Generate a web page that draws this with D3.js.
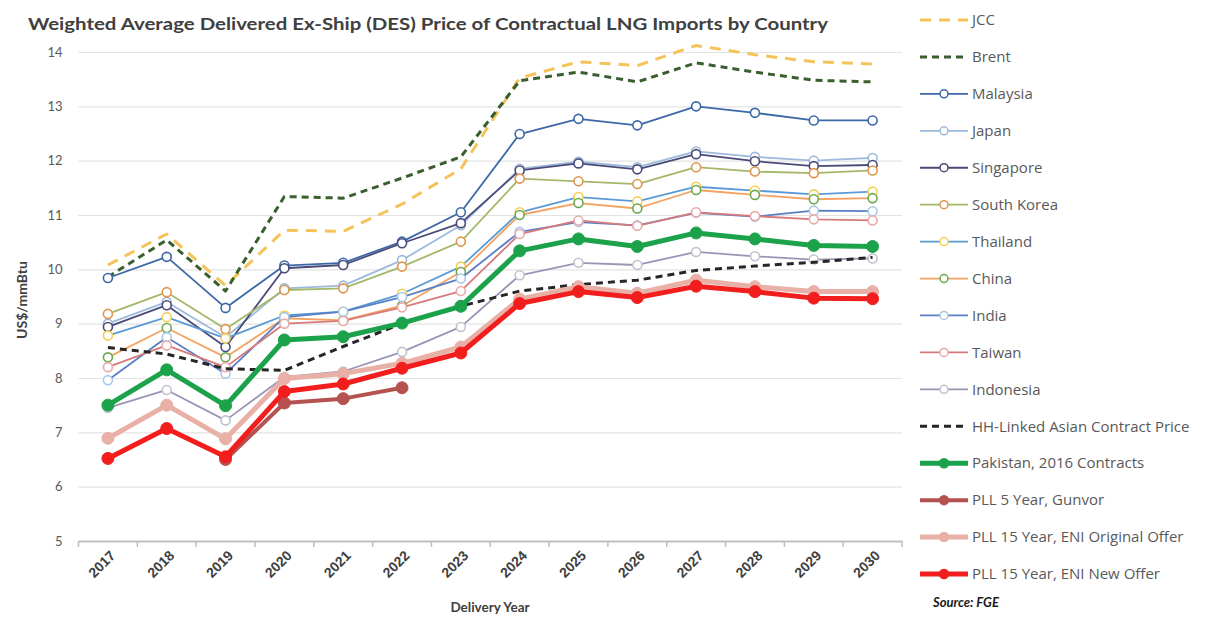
<!DOCTYPE html>
<html>
<head>
<meta charset="utf-8">
<script src="https://cdn.jsdelivr.net/npm/d3@7"></script>
<style>
  html, body { margin: 0; padding: 0; background: #fff; }
  svg { display: block; font-family: Lato, "Open Sans", sans-serif; }
</style>
</head>
<body>
<svg id="chart" width="1210" height="618"></svg>
<script>
// ---------------- DATA ----------------
const years = ["2017","2018","2019","2020","2021","2022","2023","2024","2025","2026","2027","2028","2029","2030"];
const yTicks = [5, 6, 7, 8, 9, 10, 11, 12, 13, 14];

const jcc        = [10.08, 10.65, 9.70, 10.72, 10.70, 11.20, 11.85, 13.52, 13.82, 13.75, 14.12, 13.95, 13.82, 13.78];
const brent      = [9.86, 10.54, 9.60, 11.34, 11.31, 11.68, 12.07, 13.47, 13.63, 13.45, 13.80, 13.63, 13.48, 13.45];
const malaysia   = [9.84, 10.23, 9.29, 10.07, 10.12, 10.51, 11.05, 12.49, 12.77, 12.65, 13.00, 12.88, 12.74, 12.74];
const japan      = [9.00, 9.40, 8.75, 9.65, 9.70, 10.17, 10.81, 11.85, 11.98, 11.88, 12.17, 12.07, 12.00, 12.05];
const singapore  = [8.94, 9.34, 8.57, 10.02, 10.08, 10.48, 10.85, 11.82, 11.95, 11.84, 12.12, 11.99, 11.90, 11.92];
const southKorea = [9.18, 9.58, 8.90, 9.62, 9.65, 10.05, 10.51, 11.67, 11.62, 11.57, 11.88, 11.80, 11.77, 11.82];
const thailand   = [8.78, 9.12, 8.73, 9.15, 9.22, 9.55, 10.05, 11.05, 11.33, 11.25, 11.52, 11.45, 11.38, 11.43];
const china      = [8.38, 8.92, 8.38, 9.10, 9.06, 9.33, 9.95, 11.00, 11.22, 11.12, 11.46, 11.37, 11.29, 11.31];
const india      = [7.96, 8.75, 8.08, 9.12, 9.22, 9.49, 9.83, 10.69, 10.87, 10.81, 11.04, 10.97, 11.08, 11.07];
const taiwan     = [8.20, 8.60, 8.20, 9.00, 9.05, 9.30, 9.60, 10.65, 10.90, 10.80, 11.05, 10.98, 10.92, 10.90];
const indonesia  = [7.45, 7.78, 7.22, 8.02, 8.12, 8.48, 8.94, 9.89, 10.12, 10.08, 10.32, 10.24, 10.18, 10.20];
const hhLinked   = [8.56, 8.44, 8.17, 8.14, 8.58, 9.00, 9.32, 9.60, 9.72, 9.80, 9.98, 10.06, 10.13, 10.22];
const pakistan   = [7.50, 8.15, 7.49, 8.70, 8.76, 9.01, 9.32, 10.34, 10.56, 10.42, 10.67, 10.56, 10.44, 10.42];
const pll5Gunvor = [null, null, 6.50, 7.54, 7.62, 7.82, null, null, null, null, null, null, null, null];
const pll15Orig  = [6.89, 7.50, 6.88, 7.99, 8.08, 8.27, 8.57, 9.45, 9.68, 9.56, 9.80, 9.68, 9.59, 9.59];
const pll15New   = [6.52, 7.07, 6.55, 7.75, 7.89, 8.18, 8.46, 9.37, 9.59, 9.48, 9.69, 9.59, 9.47, 9.46];

const seriesNames = ["JCC","Brent","Malaysia","Japan","Singapore","South Korea","Thailand","China","India","Taiwan","Indonesia","HH-Linked Asian Contract Price","Pakistan, 2016 Contracts","PLL 5 Year, Gunvor","PLL 15 Year, ENI Original Offer","PLL 15 Year, ENI New Offer"];

// ---------------- STYLE TABLE (built from the arrays above) ----------------
const series = [
  {name: seriesNames[0],  values: jcc,        line: "#F5C35A", width: 3,   dash: "11,8", marker: null},
  {name: seriesNames[1],  values: brent,      line: "#3A5F2E", width: 3,   dash: "7,5",  marker: null},
  {name: seriesNames[2],  values: malaysia,   line: "#3C68A8", width: 1.8, marker: "open", mstroke: "#3C68A8"},
  {name: seriesNames[3],  values: japan,      line: "#9DB9DC", width: 1.8, marker: "open", mstroke: "#9DB9DC"},
  {name: seriesNames[4],  values: singapore,  line: "#4A4A78", width: 1.8, marker: "open", mstroke: "#4A4A78"},
  {name: seriesNames[5],  values: southKorea, line: "#A4B86A", width: 1.8, marker: "open", mstroke: "#E0954D"},
  {name: seriesNames[6],  values: thailand,   line: "#5B9BD5", width: 1.8, marker: "open", mstroke: "#F5CF55"},
  {name: seriesNames[7],  values: china,      line: "#F4A261", width: 1.8, marker: "open", mstroke: "#6AA84F"},
  {name: seriesNames[8],  values: india,      line: "#5B7FC4", width: 1.8, marker: "open", mstroke: "#A9C8E8"},
  {name: seriesNames[9],  values: taiwan,     line: "#D67B7B", width: 1.8, marker: "open", mstroke: "#EBA9A9"},
  {name: seriesNames[10], values: indonesia,  line: "#9A95B5", width: 1.8, marker: "open", mstroke: "#C2C2CE"},
  {name: seriesNames[11], values: hhLinked,   line: "#262626", width: 3,   dash: "7,5",  marker: null},
  {name: seriesNames[12], values: pakistan,   line: "#1BA24A", width: 5,   marker: "fill", mstroke: "#1BA24A"},
  {name: seriesNames[13], values: pll5Gunvor, line: "#B5524F", width: 4,   marker: "fill", mstroke: "#B5524F"},
  {name: seriesNames[14], values: pll15Orig,  line: "#E8B0A6", width: 5,   marker: "fill", mstroke: "#E8B0A6"},
  {name: seriesNames[15], values: pll15New,   line: "#F21E1E", width: 5,   marker: "fill", mstroke: "#F21E1E"}
];

// ---------------- CHART ----------------
const svg = d3.select("#chart");
const plot = {left: 78.5, right: 902, top: 52, bottom: 541};

const x = d3.scaleBand().domain(years).range([plot.left, plot.right]).padding(0);
const cx = d => x(d) + x.bandwidth() / 2;
const y = d3.scaleLinear().domain([5, 14]).range([plot.bottom, plot.top]);

// title
svg.append("text")
  .attr("x", 28).attr("y", 30)
  .attr("font-size", 17).attr("font-weight", 700).attr("fill", "#404040")
  .attr("textLength", 800).attr("lengthAdjust", "spacingAndGlyphs")
  .text("Weighted Average Delivered Ex-Ship (DES) Price of Contractual  LNG Imports by Country");

// gridlines
svg.append("g")
  .attr("transform", `translate(${plot.left},0)`)
  .call(d3.axisLeft(y).tickValues(yTicks).tickSize(-(plot.right - plot.left)).tickFormat(""))
  .call(g => g.select(".domain").remove())
  .call(g => g.selectAll("line").attr("stroke", "#E3E3E3").attr("stroke-width", 1.2));

// y tick labels
svg.append("g")
  .attr("transform", `translate(${plot.left - 16},0)`)
  .call(d3.axisLeft(y).tickValues(yTicks).tickSize(0).tickPadding(0))
  .call(g => g.select(".domain").remove())
  .call(g => g.selectAll("text").attr("font-size", 13).attr("fill", "#595959").attr("font-family", "Lato, sans-serif"));

// x axis
const xAxis = svg.append("g")
  .attr("transform", `translate(0,${plot.bottom})`)
  .call(d3.axisBottom(x).tickSize(0).tickFormat(""));
xAxis.select(".domain").attr("stroke", "#BFBFBF").attr("stroke-width", 2);
// boundary ticks
const bounds = years.map(d => x(d)).concat([plot.right]);
xAxis.selectAll("line.btick").data(bounds).enter().append("line")
  .attr("class", "btick").attr("x1", d => d).attr("x2", d => d)
  .attr("y1", 0).attr("y2", 6).attr("stroke", "#BFBFBF").attr("stroke-width", 1.5);
// rotated labels
xAxis.selectAll("text.yl").data(years).enter().append("text")
  .attr("class", "yl")
  .attr("transform", d => `translate(${cx(d) + 5},${12}) rotate(-45)`)
  .attr("text-anchor", "end").attr("dy", "0.35em")
  .attr("font-size", 14).attr("font-weight", 700).attr("fill", "#404040")
  .text(d => d);

// axis titles
svg.append("text")
  .attr("x", 490).attr("y", 612).attr("text-anchor", "middle")
  .attr("font-size", 13.5).attr("font-weight", 700).attr("fill", "#404040")
  .text("Delivery Year");
svg.append("text")
  .attr("transform", "translate(27,300) rotate(-90)").attr("text-anchor", "middle")
  .attr("font-size", 14).attr("font-weight", 700).attr("fill", "#404040")
  .text("US$/mmBtu");

// lines
const lineGen = d3.line()
  .defined(d => d.v != null)
  .x(d => cx(d.year))
  .y(d => y(d.v));

const gSeries = svg.append("g");
series.forEach(s => {
  const pts = years.map((yr, i) => ({year: yr, v: s.values[i]}));
  const g = gSeries.append("g");
  g.append("path")
    .datum(pts)
    .attr("fill", "none")
    .attr("stroke", s.line)
    .attr("stroke-width", s.width)
    .attr("stroke-dasharray", s.dash || null)
    .attr("stroke-linejoin", "round")
    .attr("d", lineGen);
  if (s.marker) {
    g.selectAll("circle").data(pts.filter(p => p.v != null)).enter().append("circle")
      .attr("cx", d => cx(d.year)).attr("cy", d => y(d.v))
      .attr("r", s.marker === "fill" ? 6 : 4.5)
      .attr("fill", s.marker === "fill" ? s.mstroke : "#fff")
      .attr("stroke", s.mstroke)
      .attr("stroke-width", s.marker === "fill" ? 1 : 1.6);
  }
});

// legend
const legend = svg.append("g");
const legY = d3.scalePoint().domain(seriesNames).range([20, 574]);
seriesNames.forEach((name, i) => {
  const s = series[i];
  const ly = legY(name);
  const g = legend.append("g").attr("transform", `translate(0,${ly})`);
  g.append("line").attr("x1", 920).attr("x2", 968).attr("y1", 0).attr("y2", 0)
    .attr("stroke", s.line).attr("stroke-width", s.width)
    .attr("stroke-dasharray", s.dash || null);
  if (s.marker) {
    g.append("circle").attr("cx", 944).attr("cy", 0)
      .attr("r", s.marker === "fill" ? 4.5 : 4)
      .attr("fill", s.marker === "fill" ? s.mstroke : "#fff")
      .attr("stroke", s.mstroke).attr("stroke-width", 1.5);
  }
  g.append("text").attr("x", 972).attr("y", 0).attr("dy", "0.35em")
    .attr("font-size", 15).attr("font-family", "'Open Sans', sans-serif")
    .attr("fill", "#595959").text(name);
});
svg.append("text").attr("x", 933).attr("y", 602).attr("dy", "0.35em")
  .attr("font-size", 13).attr("font-weight", 700).attr("font-style", "italic").attr("fill", "#1a1a1a")
  .text("Source: FGE");
</script>
</body>
</html>
